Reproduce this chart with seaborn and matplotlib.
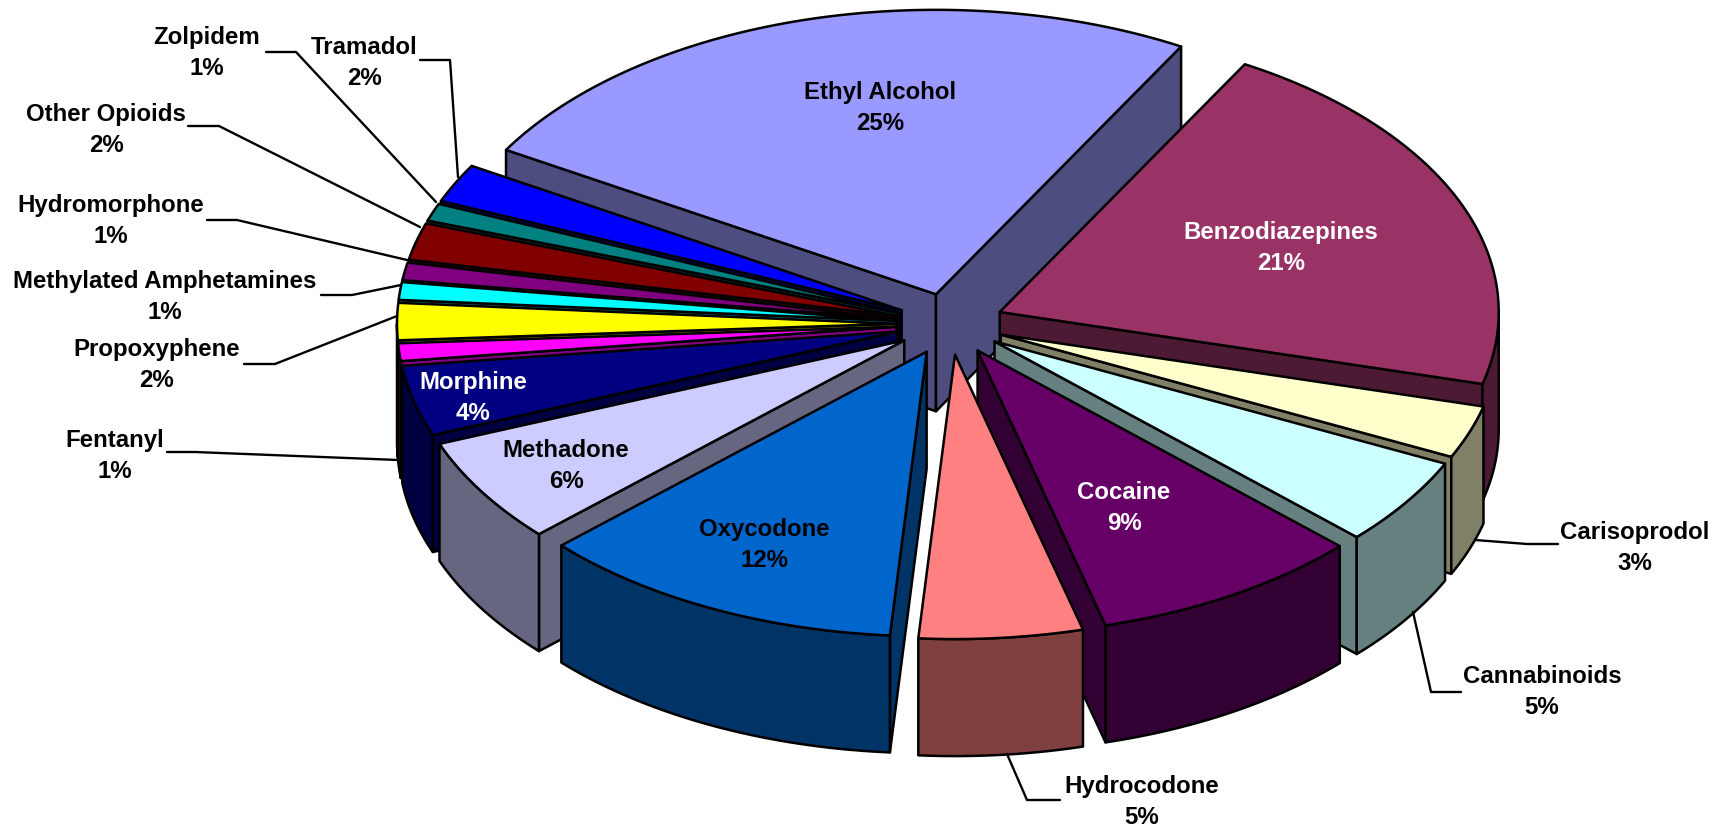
import numpy as np
import seaborn as sns
import matplotlib
matplotlib.use("Agg")
import matplotlib.pyplot as plt

# clockwise from the back of the pie
drugs = ["Ethyl Alcohol", "Benzodiazepines", "Carisoprodol", "Cannabinoids", "Cocaine",
         "Hydrocodone", "Oxycodone", "Methadone", "Morphine", "Fentanyl", "Propoxyphene",
         "Methylated Amphetamines", "Hydromorphone", "Other Opioids", "Zolpidem", "Tramadol"]
percent = [24.7, 20.9, 3, 5, 8.8, 5.3, 11.9, 6, 4, 1, 2.1, 1, 1, 2.1, 1, 2.2]
colors = ["#9999FF", "#993366", "#FFFFCC", "#CCFFFF", "#660066", "#FF8080", "#0066CC", "#CCCCFF",
          "#000080", "#FF00FF", "#FFFF00", "#00FFFF", "#800080", "#800000", "#008080", "#0000FF"]
text_colors = ["black", "white", "black", "black", "white", "black", "black", "black",
               "white", "black", "black", "black", "black", "black", "black", "black"]

# label centres in pixels
label_x = [880, 1281, 1635, 1542, 1124, 1142, 764, 566, 473, 115, 157, 165, 111, 106, 207, 364]
label_y = [108, 248, 548, 692, 508, 802, 545, 466, 398, 456, 365, 297, 221, 130, 53, 63]

# leader lines (label end, elbow, pie)
leaders = {
    "Carisoprodol": [(1558, 545), (1527, 545), (1475, 541)],
    "Cannabinoids": [(1461, 693), (1431, 693), (1413, 613)],
    "Hydrocodone": [(1060, 801), (1027, 801), (1007, 755)],
    "Fentanyl": [(167, 453), (195, 453), (398, 461)],
    "Propoxyphene": [(244, 365), (275, 365), (397, 317)],
    "Methylated Amphetamines": [(321, 296), (352, 296), (401, 286)],
    "Hydromorphone": [(207, 221), (237, 221), (407, 261)],
    "Other Opioids": [(188, 127), (219, 127), (420, 228)],
    "Zolpidem": [(266, 53), (296, 53), (436, 203)],
    "Tramadol": [(420, 61), (450, 61), (458, 178)],
}

cx, cy = 950, 325
radius = 499
tilt = 0.57
depth = 117
explode = 54
start = -59.5

sns.set_theme(style="white")
plt.rcParams["font.family"] = ["Liberation Sans", "DejaVu Sans"]
palette = sns.color_palette(colors)

fig = plt.figure(figsize=(17.2, 8.28), dpi=100)
ax = fig.add_axes([0, 0, 1, 1])
ax.set_xlim(0, 1720)
ax.set_ylim(828, 0)
ax.axis("off")


def project(ox, oy, r, deg):
    a = np.radians(deg)
    return ox + r * np.sin(a), oy - r * tilt * np.cos(a)


def face(xs, ys, color, z):
    ax.fill(xs, ys, facecolor=color, edgecolor="black", linewidth=1.8, joinstyle="round", zorder=z)


edges = start + np.concatenate([[0], np.cumsum(percent)]) * 3.6
mids = (edges[:-1] + edges[1:]) / 2
order = np.argsort(-np.cos(np.radians(mids)))

for rank, i in enumerate(order):
    a0, a1 = edges[i], edges[i + 1]
    top = palette[i]
    side = tuple(c * 0.5 for c in top)
    ox, oy = project(cx, cy, explode, mids[i])
    z = 10 + rank

    # flat walls, only the ones turned to the viewer
    for ang, normal in [(a0, a0 - 90), (a1, a1 + 90)]:
        if np.cos(np.radians(normal)) < 0:
            rx, ry = project(ox, oy, radius, ang)
            face([ox, rx, rx, ox], [oy, ry, ry + depth, oy + depth], side, z)

    # outer wall, front half only
    b0, b1 = (max(a0, 90), min(a1, 270)) if a0 < 270 else (0, 0)
    if b1 > b0:
        th = np.linspace(b0, b1, 60)
        rx, ry = project(ox, oy, radius, th)
        face(np.r_[rx, rx[::-1]], np.r_[ry, ry[::-1] + depth], side, z)

    th = np.linspace(a0, a1, 90)
    rx, ry = project(ox, oy, radius, th)
    face(np.r_[ox, rx], np.r_[oy, ry], top, z)

for name, pts in leaders.items():
    ax.plot(*zip(*pts), color="black", linewidth=1.7, zorder=40)

for name, p, x, y, tc in zip(drugs, percent, label_x, label_y, text_colors):
    ax.text(x, y, f"{name}\n{p:.0f}%", color=tc, ha="center", va="center", fontsize=17.3,
            fontweight="bold", linespacing=1.4, zorder=50)

fig.savefig("out.png", dpi=100, facecolor="white")
